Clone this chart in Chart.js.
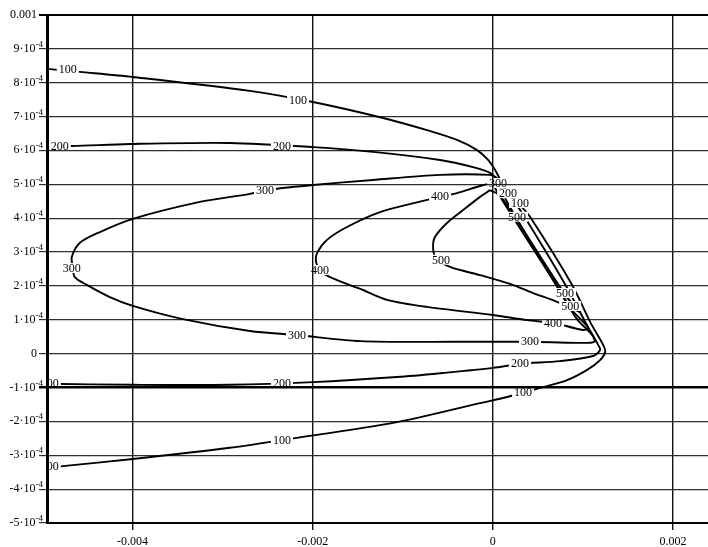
<!DOCTYPE html>
<html>
<head>
<meta charset="utf-8">
<script src="https://cdn.jsdelivr.net/npm/chart.js@4/dist/chart.umd.min.js"></script>
<style>
  html, body { margin: 0; padding: 0; background: #fff; }
  canvas { display: block; }
</style>
</head>
<body>
<canvas id="c" width="708" height="547"></canvas>
<script>
// Axis ticks
const xTicks = [-0.004, -0.002, 0, 0.002];
const xTickLabels = ['-0.004', '-0.002', '0', '0.002'];
const yTicks = [-0.0005, -0.0004, -0.0003, -0.0002, -0.0001, 0, 0.0001, 0.0002, 0.0003, 0.0004, 0.0005, 0.0006, 0.0007, 0.0008, 0.0009, 0.001];
const yTickLabels = ['-5·10^-4', '-4·10^-4', '-3·10^-4', '-2·10^-4', '-1·10^-4', '0', '1·10^-4', '2·10^-4', '3·10^-4', '4·10^-4', '5·10^-4', '6·10^-4', '7·10^-4', '8·10^-4', '9·10^-4', '0.001'];

// Contour levels
const levels = [100, 200, 300, 400, 500];

// Contour 100
const c100x = [-0.004952, -0.004586, -0.003997, -0.002697, -0.001997, -0.001219, -0.000730, -0.000397, -0.000174, -0.000052, 0.000026, 0.000137, 0.000303, 0.000414, 0.000881, 0.001081, 0.001226, 0.001248, 0.001192, 0.001048, 0.000826, 0.000526, 0.000159, -0.000141, -0.001063, -0.002341, -0.002919, -0.003997, -0.004774, -0.004952];
const c100y = [8.41e-4, 8.32e-4, 8.17e-4, 7.76e-4, 7.43e-4, 6.96e-4, 6.60e-4, 6.31e-4, 6.01e-4, 5.72e-4, 5.42e-4, 4.89e-4, 4.39e-4, 4.04e-4, 2.03e-4, 0.94e-4, 0.26e-4, 0.05e-4, -0.19e-4, -0.48e-4, -0.78e-4, -1.01e-4, -1.28e-4, -1.46e-4, -2.02e-4, -2.55e-4, -2.78e-4, -3.11e-4, -3.32e-4, -3.35e-4];

// Contour 200
const c200x = [-0.004952, -0.004674, -0.004030, -0.002919, -0.001997, -0.001330, -0.000586, -0.000219, -0.000030, 0.000048, 0.000170, 0.000326, 0.000814, 0.001026, 0.001170, 0.001192, 0.001114, 0.000748, 0.000303, 0.000003, -0.000552, -0.001063, -0.001997, -0.002919, -0.003997, -0.004952];
const c200y = [6.13e-4, 6.13e-4, 6.19e-4, 6.22e-4, 6.10e-4, 5.96e-4, 5.72e-4, 5.51e-4, 5.34e-4, 5.13e-4, 4.74e-4, 4.15e-4, 2.00e-4, 0.94e-4, 0.26e-4, 0.11e-4, -0.07e-4, -0.22e-4, -0.30e-4, -0.42e-4, -0.57e-4, -0.69e-4, -0.84e-4, -0.92e-4, -0.92e-4, -0.89e-4];

// Contour 300
const c300x = [0.000048, -0.000030, -0.000586, -0.001330, -0.001997, -0.002530, -0.002697, -0.003252, -0.003997, -0.004363, -0.004586, -0.004674, -0.004663, -0.004641, -0.004508, -0.004252, -0.003997, -0.003441, -0.002697, -0.002174, -0.001474, -0.000363, 0.000414, 0.000937, 0.001126, 0.001103, 0.000926, 0.000703, 0.000237, 0.000103, 0.000048];
const c300y = [5.19e-4, 5.28e-4, 5.28e-4, 5.13e-4, 4.98e-4, 4.83e-4, 4.72e-4, 4.48e-4, 3.98e-4, 3.59e-4, 3.27e-4, 2.86e-4, 2.53e-4, 2.26e-4, 2.03e-4, 1.67e-4, 1.41e-4, 1.02e-4, 0.67e-4, 0.55e-4, 0.37e-4, 0.35e-4, 0.35e-4, 0.32e-4, 0.35e-4, 0.55e-4, 1.05e-4, 2.03e-4, 4.12e-4, 4.77e-4, 5.19e-4];

// Contour 400
const c400x = [-0.000008, -0.000141, -0.000397, -0.000586, -0.000774, -0.001252, -0.001619, -0.001841, -0.001952, -0.001963, -0.001919, -0.001808, -0.001441, -0.001174, -0.000730, 0.000003, 0.000381, 0.000670, 0.001003, 0.001059, 0.000881, 0.000692, 0.000214, 0.000059, -0.000008];
const c400y = [5.04e-4, 4.95e-4, 4.74e-4, 4.63e-4, 4.51e-4, 4.18e-4, 3.74e-4, 3.36e-4, 2.97e-4, 2.71e-4, 2.47e-4, 2.26e-4, 1.88e-4, 1.59e-4, 1.38e-4, 1.14e-4, 0.99e-4, 0.91e-4, 0.70e-4, 0.76e-4, 1.29e-4, 2.09e-4, 4.07e-4, 4.74e-4, 5.04e-4];

// Contour 500
const c500x = [-0.000030, -0.000141, -0.000330, -0.000508, -0.000641, -0.000663, -0.000630, -0.000474, -0.000141, 0.000192, 0.000448, 0.000714, 0.000914, 0.000970, 0.000814, 0.000281, 0.000081, -0.000030];
const c500y = [4.83e-4, 4.63e-4, 4.24e-4, 3.86e-4, 3.45e-4, 3.12e-4, 2.83e-4, 2.56e-4, 2.32e-4, 2.06e-4, 1.79e-4, 1.53e-4, 1.29e-4, 1.23e-4, 1.70e-4, 3.89e-4, 4.66e-4, 4.83e-4];

// Inline level labels (value and anchor in data units)
const labelValue = [100, 100, 100, 100, 100, 100, 200, 200, 200, 200, 200, 200, 300, 300, 300, 300, 300, 400, 400, 400, 500, 500, 500, 500];
const labelX = [-0.004719, -0.002163, 0.000303, 0.000337, -0.002341, -0.004919, -0.004808, -0.002341, 0.000170, 0.000303, -0.002341, -0.004919, 0.000059, -0.002530, -0.004674, -0.002174, 0.000414, -0.000586, -0.001919, 0.000670, 0.000270, -0.000575, 0.000803, 0.000859];
const labelY = [8.41e-4, 7.49e-4, 4.45e-4, -1.13e-4, -2.55e-4, -3.32e-4, 6.13e-4, 6.13e-4, 4.74e-4, -0.30e-4, -0.87e-4, -0.87e-4, 5.04e-4, 4.83e-4, 2.53e-4, 0.55e-4, 0.35e-4, 4.66e-4, 2.47e-4, 0.91e-4, 4.04e-4, 2.77e-4, 1.79e-4, 1.41e-4];

const FONT = '"Liberation Serif", "Times New Roman", serif';
const curves = { 100: [c100x, c100y], 200: [c200x, c200y], 300: [c300x, c300y], 400: [c400x, c400y], 500: [c500x, c500y] };

const datasets = levels.map(lv => {
  const [xs, ys] = curves[lv];
  return {
    label: String(lv),
    data: xs.map((x, i) => ({ x, y: ys[i] })),
    showLine: true,
    borderColor: '#000',
    borderWidth: 1.9,
    pointRadius: 0,
    tension: 0.3,
    fill: false
  };
});

function labelBoxes(chart) {
  const ctx = chart.ctx;
  ctx.save();
  ctx.font = '12px ' + FONT;
  const boxes = labelValue.map((v, i) => {
    const px = chart.scales.x.getPixelForValue(labelX[i]);
    const py = chart.scales.y.getPixelForValue(labelY[i]);
    const w = ctx.measureText(String(v)).width;
    return { text: String(v), px, py, w };
  });
  ctx.restore();
  return boxes;
}

// Breaks the contour lines where their level labels sit, then writes the labels
const contourLabels = {
  id: 'contourLabels',
  beforeDatasetsDraw(chart) {
    const ctx = chart.ctx, a = chart.chartArea;
    ctx.save();
    ctx.beginPath();
    ctx.rect(a.left, a.top, a.right - a.left, a.bottom - a.top);
    labelBoxes(chart).forEach(b => {
      ctx.rect(b.px - b.w / 2 - 2, b.py - 5, b.w + 4, 10);
    });
    ctx.clip('evenodd');
  },
  afterDatasetsDraw(chart) {
    const ctx = chart.ctx, a = chart.chartArea;
    ctx.restore();
    ctx.save();
    ctx.beginPath();
    ctx.rect(a.left + 1, a.top, a.right - a.left, a.bottom - a.top);
    ctx.clip();
    ctx.fillStyle = '#000';
    ctx.font = '12px ' + FONT;
    ctx.textAlign = 'center';
    ctx.textBaseline = 'middle';
    labelBoxes(chart).forEach(b => ctx.fillText(b.text, b.px, b.py + 0.5));
    ctx.restore();
  }
};

// Y tick labels with superscript exponents
const yLabels = {
  id: 'yLabels',
  afterDraw(chart) {
    const ctx = chart.ctx, ys = chart.scales.y;
    ctx.save();
    ctx.fillStyle = '#000';
    ctx.textBaseline = 'alphabetic';
    yTicks.forEach((v, i) => {
      const py = ys.getPixelForValue(v);
      const parts = yTickLabels[i].split('^');
      if (parts.length === 2) {
        ctx.font = '9px ' + FONT;
        const ew = ctx.measureText(parts[1]).width;
        ctx.textAlign = 'left';
        ctx.fillText(parts[1], 43 - ew, py - 2);
        ctx.font = '12px ' + FONT;
        ctx.textAlign = 'right';
        ctx.fillText(parts[0], 43 - ew, py + 3);
      } else {
        ctx.font = '12px ' + FONT;
        ctx.textAlign = 'right';
        ctx.fillText(parts[0], 37, py + 3);
      }
    });
    ctx.restore();
  }
};

new Chart(document.getElementById('c'), {
  type: 'scatter',
  data: { datasets },
  options: {
    responsive: false,
    animation: false,
    devicePixelRatio: 1,
    layout: { padding: { top: 15, left: 0, right: 0, bottom: 0 } },
    plugins: { legend: { display: false }, tooltip: { enabled: false } },
    scales: {
      x: {
        type: 'linear',
        min: -0.00495,
        max: 0.00239,
        afterBuildTicks: s => { s.ticks = xTicks.map(v => ({ value: v })); },
        afterFit: s => { s.height = 24; },
        ticks: {
          autoSkip: false,
          maxRotation: 0,
          padding: 5,
          color: '#000',
          font: { family: FONT, size: 12 },
          callback: (v) => {
            const i = xTicks.findIndex(t => Math.abs(t - v) < 1e-9);
            return i >= 0 ? xTickLabels[i] : '';
          }
        },
        grid: { color: '#111', lineWidth: 1.4, tickLength: 7, drawTicks: true },
        border: { display: true, color: '#000', width: 2 }
      },
      y: {
        type: 'linear',
        min: -0.0005,
        max: 0.001,
        afterBuildTicks: s => { s.ticks = yTicks.map(v => ({ value: v })); },
        afterFit: s => { s.width = 47; },
        ticks: { display: false, autoSkip: false },
        grid: {
          color: ctx => (ctx.tick && (Math.abs(ctx.tick.value + 0.0001) < 1e-9 || Math.abs(ctx.tick.value - 0.001) < 1e-9)) ? '#000' : '#2e2e2e',
          lineWidth: ctx => {
            if (!ctx.tick) return 1;
            if (Math.abs(ctx.tick.value + 0.0001) < 1e-9) return 2.5;
            if (Math.abs(ctx.tick.value - 0.001) < 1e-9) return 2;
            return 1.2;
          },
          tickLength: 8,
          drawTicks: true
        },
        border: { display: true, color: '#000', width: 3 }
      }
    }
  },
  plugins: [contourLabels, yLabels]
});
</script>
</body>
</html>
